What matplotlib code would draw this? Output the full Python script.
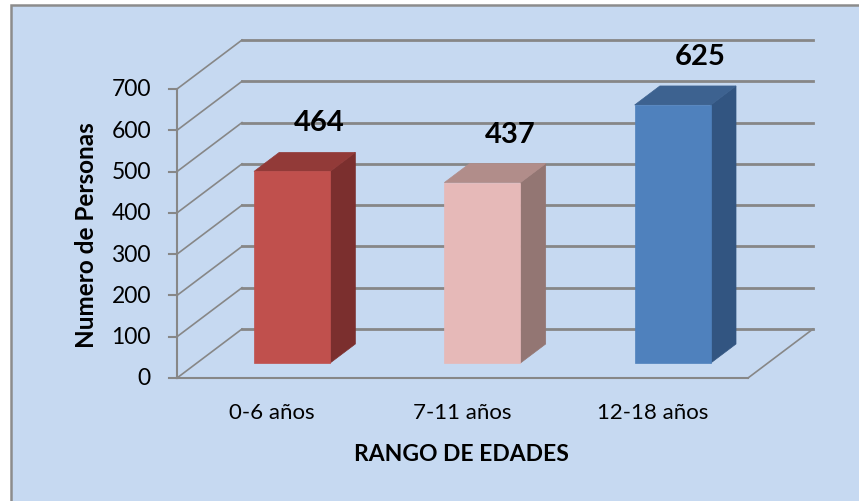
import matplotlib
matplotlib.use("Agg")
import matplotlib.pyplot as plt
from matplotlib.patches import Polygon, Rectangle

plt.rcParams['font.family'] = ['Lato', 'DejaVu Sans']

# ---- data ----
categories = ["0-6 años", "7-11 años", "12-18 años"]
values = [464, 437, 625]
y_ticks = [0, 100, 200, 300, 400, 500, 600, 700]
front_colors = ["#C0504D", "#E6B9B8", "#4F81BD"]
side_colors = ["#7B2F2E", "#937673", "#325581"]
top_colors = ["#923A38", "#B18D8A", "#3D6290"]
x_title = "RANGO DE EDADES"
y_title = "Numero de Personas"

W, H = 859, 502
fig = plt.figure(figsize=(W / 100, H / 100), dpi=100)
fig.patch.set_facecolor("white")

# chart area background with border
bg = Rectangle((11 / W, -0.01), 1.02, 1.01 - 6 / H, transform=fig.transFigure,
               facecolor="#C6D9F1", edgecolor="#8C8C8C", linewidth=1.8, zorder=-10)
fig.add_artist(bg)

# front plane of the 3D box
x0, x1 = 177, 748
yb, yt = 379, 90
ax = fig.add_axes([x0 / W, (H - yb) / H, (x1 - x0) / W, (yb - yt) / H])
ax.set_zorder(5)
ax.set_xlim(-0.5, len(categories) - 0.5)
ax.set_ylim(0, 700)
ax.patch.set_alpha(0)
for s in ax.spines.values():
    s.set_visible(False)
ax.set_xticks([])
ax.set_yticks([])

# depth projection
px_per_cat = (x1 - x0) / len(categories)
px_per_val = (yb - yt) / 700.0
DX = 65 / px_per_cat
DV = 49 / px_per_val


def proj(x, v, d):
    return (x + d * DX, v + d * DV)


grid_col = "#878787"
xl, xr = -0.5, len(categories) - 0.5
# back wall gridlines and left wall diagonals
for t in y_ticks:
    bx0, by = proj(xl, t, 1)
    bx1, _ = proj(xr, t, 1)
    ax.plot([bx0, bx1], [by, by], color=grid_col, lw=2.0, clip_on=False, zorder=1)
    fx, fy = proj(xl, t, 0)
    ax.plot([fx, bx0], [fy, by], color=grid_col, lw=1.2, clip_on=False, zorder=1)
    # tick mark
    ax.plot([xl - 8 / px_per_cat, xl], [t, t], color=grid_col, lw=1.5, clip_on=False, zorder=1)
    ax.text(xl - 26 / px_per_cat, t, str(t), ha="right", va="center", fontsize=16.5,
            color="black")

# y axis line (front)
ax.plot([xl, xl], [0, 700], color=grid_col, lw=1.5, clip_on=False, zorder=1)
# floor front and right edges
ax.plot([xl, xr], [0, 0], color=grid_col, lw=1.5, clip_on=False, zorder=1)
rx, ry = proj(xr, 0, 1)
ax.plot([xr, rx], [0, ry], color=grid_col, lw=1.2, clip_on=False, zorder=1)

# bars
bw = 0.4
d0, d1 = 15 / 49, 34 / 49
for i, (v, fc, sc, tc) in enumerate(zip(values, front_colors, side_colors, top_colors)):
    L, R = i - bw / 2, i + bw / 2
    front = [proj(L, 0, d0), proj(R, 0, d0), proj(R, v, d0), proj(L, v, d0)]
    side = [proj(R, 0, d0), proj(R, 0, d1), proj(R, v, d1), proj(R, v, d0)]
    top = [proj(L, v, d0), proj(R, v, d0), proj(R, v, d1), proj(L, v, d1)]
    for pts, c in ((side, sc), (top, tc), (front, fc)):
        ax.add_patch(Polygon(pts, closed=True, facecolor=c, edgecolor=c,
                             lw=0.5, clip_on=False, zorder=3))
    ax.text(i + 0.25, v + 155, str(v), ha="center", va="center", fontsize=21,
            fontweight="bold", color="black", zorder=4)

# category labels
for i, c in enumerate(categories):
    ax.text(i, -34 / px_per_val, c, ha="center", va="center", fontsize=16, color="black")

# axis titles
fig.text(461 / W, 1 - 455 / H, x_title, ha="center", va="center",
         fontsize=16.5, fontweight="bold")
fig.text(87 / W, 1 - 235 / H, y_title, ha="center", va="center",
         fontsize=17.5, fontweight="bold", rotation=90)

fig.savefig("out.png", dpi=100, facecolor="white")
